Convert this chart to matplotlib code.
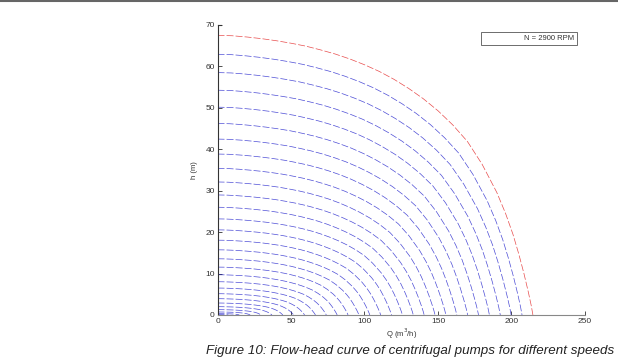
import numpy as np
import matplotlib
matplotlib.use("Agg")
import matplotlib.pyplot as plt
from matplotlib.lines import Line2D

# base curve (N = 2900 RPM)
q_base = [0, 10, 20, 30, 40, 50, 60, 70, 80, 90, 100, 110, 120, 130, 140,
          150, 160, 170, 180, 190, 196, 201, 205, 208.5, 211.5, 213.5, 214.6]
h_base = [67.5, 67.4, 67.1, 66.7, 66.2, 65.6, 64.9, 64.0, 63.0, 61.8, 60.4,
          58.8, 56.9, 54.7, 52.2, 49.3, 45.9, 41.9, 36.4, 29.6, 24.5, 19.5,
          14.7, 10.0, 5.5, 2.2, 0.0]

n_ref = 2900
speeds = [2800, 2700, 2600, 2500, 2400, 2300, 2200, 2100, 2000, 1900,
          1800, 1700, 1600, 1500, 1400, 1300, 1200, 1100, 1000, 900,
          800, 700, 600, 500, 400, 300, 200, 100]

xticks = [0, 50, 100, 150, 200, 250]
yticks = [0, 10, 20, 30, 40, 50, 60, 70]

plt.rcParams['font.family'] = ['Liberation Sans', 'DejaVu Sans']

fig = plt.figure(figsize=(6.18, 3.59), dpi=100)
ax = fig.add_axes([0.352, 0.1226, 0.5945, 0.8078])

q_base = np.array(q_base)
h_base = np.array(h_base)

# other speeds follow the affinity laws (Q ~ N, H ~ N^2)
for n in speeds:
    r = n / n_ref
    ax.plot(q_base * r, h_base * r ** 2, color='#1010c8', lw=0.5,
            dashes=(10, 3), alpha=0.75)

ax.plot(q_base, h_base, color='#e01010', lw=0.5, dashes=(10, 3), alpha=0.75)

ax.set_xlim(0, 250)
ax.set_ylim(0, 70)
ax.set_xticks(xticks)
ax.set_yticks(yticks)
ax.tick_params(direction='in', length=3, width=0.6, labelsize=6,
               colors='#333333', pad=2)
for s in ['top', 'right']:
    ax.spines[s].set_visible(False)
ax.spines['left'].set_color('#333333')
ax.spines['bottom'].set_color('#888888')
ax.spines['left'].set_linewidth(0.8)
ax.spines['bottom'].set_linewidth(0.8)
# little tick at the top of the y axis
ax.plot([0, 2.5], [70, 70], color='#333333', lw=0.8, clip_on=False)

ax.set_xlabel('Q (m$^3$/h)', fontsize=5.5, color='#333333', labelpad=1)
ax.set_ylabel('h (m)', fontsize=5.5, color='#333333', labelpad=5)

leg = ax.legend([Line2D([], [], linestyle='none')], ['N = 2900 RPM'],
                loc='upper right', bbox_to_anchor=(0.99, 0.99),
                fontsize=5.5, handlelength=4.5, fancybox=False,
                borderpad=0.4, framealpha=1)
leg.get_frame().set_edgecolor('#555555')
leg.get_frame().set_linewidth(0.6)
for t in leg.get_texts():
    t.set_color('#333333')

fig.text(0.664, 0.006, 'Figure 10: Flow-head curve of centrifugal pumps for different speeds',
         ha='center', va='bottom', fontsize=9.6, style='italic', color='#222222')

fig.add_artist(Line2D([0, 1], [0.997, 0.997], color='#666666', lw=1.5,
                      transform=fig.transFigure))

fig.savefig('out.png', dpi=100)
